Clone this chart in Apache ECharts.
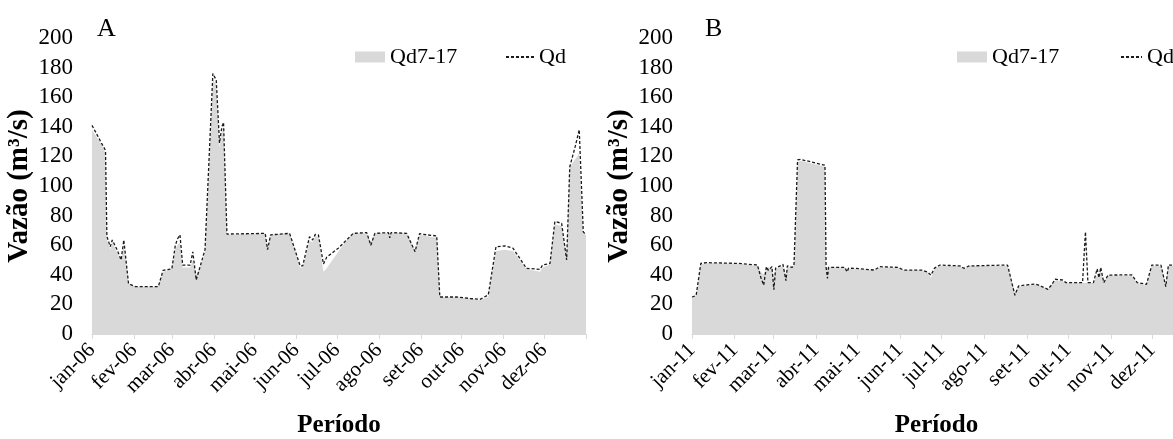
<!DOCTYPE html>
<html>
<head>
<meta charset="utf-8">
<script src="https://cdn.jsdelivr.net/npm/echarts@6/dist/echarts.min.js"></script>
<style>
  html, body { margin: 0; padding: 0; background: #fff; overflow: hidden; }
  #chart { width: 1173px; height: 439px; }
</style>
</head>
<body>
<div id="chart"></div>
<script>
// Day of year (0 = 1 Jan) at which each month starts, and the month labels
const monthStarts = [0, 31, 59, 90, 120, 151, 181, 212, 243, 273, 304, 334];
const monthNames = ['jan', 'fev', 'mar', 'abr', 'mai', 'jun', 'jul', 'ago', 'set', 'out', 'nov', 'dez'];
const labels2006 = monthNames.map(m => m + '-06');
const labels2011 = monthNames.map(m => m + '-11');
const yTicks = [0, 20, 40, 60, 80, 100, 120, 140, 160, 180, 200];

// 2006 — discharge [day of year, m³/s]
const qd2006 = [
  [0,141],[7,129],[10,124],[11,66],[13.5,59],[15,63.5],[18.5,57],[21.5,50],[23.5,63.5],[27,34],
  [32,32],[49,32],[52.5,43],[59,44],[61.5,59.5],[63,64],[65,67],[67,46.5],[72.5,46.5],[74.5,55.5],
  [77,36.5],[80.5,47.5],[83.5,57],[89.3,176],[91.8,171.6],[94.2,129],[96,140],[97.2,143],[99.7,67.5],
  [128,68],[129.7,57],[132,67],[146,68],[153.8,46],[155.7,46],[160.7,65.7],[163,63.5],[165,67.3],
  [167.3,67],[171,47.3],[173.5,52],[182,58],[193,68],[203,68.5],[206,60],[209,68],[219,68.5],
  [220,65],[221,68.5],[232.5,68],[238.7,55.6],[242,67.8],[247.3,67],[254.7,66.3],[257,25],
  [269.5,25],[279.3,24],[286.7,23.4],[288,22.5],[292.8,26.4],[298.5,59],[305,59.5],[311,58],
  [321,44.4],[331,43.7],[333,46.6],[338.4,47.7],[342,76],[347,74.8],[350.7,50],[353,113],
  [357,126.6],[360,138],[363,69],[365,67]
];
const qd717_2006 = [
  [0,138],[7,128],[10,122],[11,64],[13.5,57],[15,62],[18.5,55],[21.5,49],[23.5,60],[27,34],
  [32,32],[49,32],[52.5,42],[59,44],[61.5,57],[63,60],[65,62],[67,45],[72.5,45],[74.5,50],
  [77,40],[80.5,46],[83.5,55],[89.3,172],[91.8,168],[94.2,126],[96,136],[97.2,140],[99.7,67],
  [128,68],[129.7,57],[132,67],[146,68],[153.8,45],[155.7,45],[160.7,63],[163,62],[165,66],
  [167.3,66],[171,42],[173,44],[187,62],[193,68],[203,68],[206,62],[209,68],[232.5,68],[238.7,56],
  [242,67],[247.3,66],[254.7,65],[257,25],[269.5,25],[279.3,24],[286.7,23],[292.8,25],
  [298.5,56],[305,57],[311,56],[321,44],[331,42],[333,45],[338.4,47],[342,74],[347,73],
  [350.7,52],[353,113],[357,118],[360,122],[363,68],[365,67]
];

// 2011 — discharge [day of year, m³/s]
const qd2011 = [
  [0,25],[3,26],[6.4,47.7],[10.4,48.2],[34,47.7],[47.5,46.6],[50,38],[52,33],[54,45.5],[55.4,43],
  [58,45.5],[59.4,30],[60.7,44.5],[66,47],[68.2,36],[69.2,46],[72.7,45],[74,46.6],[76.6,117.6],
  [78.8,118],[96.5,114],[97.3,45],[98.3,37.6],[99.1,45],[111,45],[112.4,42],[113.7,44.5],[119,44.3],
  [132.3,43.2],[136.3,45.5],[149.5,45],[153.5,43.2],[166.7,43.2],[170.7,42],[173.4,39.8],[176,44.5],
  [180,46.6],[194.6,46],[197.2,44.4],[201.2,46],[229,46.6],[234.3,26.2],[237,32.5],[248.9,33.8],
  [251.6,33],[258.2,30.2],[260.8,33],[263.5,37],[268.8,36.5],[271.4,34.7],[283.4,34.7],[285.5,69],
  [287.3,34.7],[291.3,34.7],[294,44],[295.3,38],[296.6,45],[298.8,34.7],[301.9,39.8],[303.3,40.5],
  [319.1,40],[323.1,34.7],[329.8,33.6],[333.7,46.6],[340.3,46.6],[343.8,32],[345.7,46.6],[365,46.6]
];
const qd717_2011 = [
  [0,25],[3,26],[6.4,47],[10.4,48],[34,47.5],[47.5,46],[50,42],[52,40],[54,45],[58,45],
  [59.4,38],[60.7,44],[66,46],[68.2,40],[69.2,45],[74,46],[76.6,116],[78.8,117],[96.5,113],
  [97.3,45],[99.1,45],[111,45],[112.4,42],[113.7,44],[119,44],[132.3,43],[136.3,45],[149.5,45],
  [153.5,43],[166.7,43],[170.7,42],[173.4,38],[176,44],[180,46],[194.6,46],[197.2,44],[201.2,46],
  [229,46],[234.3,28],[237,32],[248.9,33.5],[251.6,33],[258.2,30],[260.8,33],[263.5,36],
  [268.8,36],[271.4,34.5],[291.3,34.5],[294,40],[296.6,42],[298.8,35],[301.9,39.5],[319.1,39.5],
  [323.1,34.5],[329.8,33],[333.7,46],[340.3,46],[343.8,34],[345.7,46],[365,46]
];

const FONT = 'Liberation Serif';
const AREA = '#d9d9d9';
const INK = '#000';

function xAxisFor(gridIndex, labels, namePadding) {
  return {
    type: 'value', gridIndex, min: 0, max: 365,
    name: 'Período', nameLocation: 'middle', nameGap: 79,
    nameTextStyle: { fontFamily: FONT, fontSize: 25, fontWeight: 'bold', color: INK,
                     padding: namePadding },
    splitLine: { show: false },
    axisLine: { show: true, lineStyle: { color: '#d9d9d9', width: 1 } },
    axisTick: { show: true, customValues: monthStarts.concat([365]), length: 5,
                lineStyle: { color: '#d9d9d9' } },
    axisLabel: {
      customValues: monthStarts, rotate: 45, margin: 13,
      fontFamily: FONT, fontSize: 21, color: INK,
      formatter: v => labels[monthStarts.indexOf(v)] || ''
    }
  };
}
function yAxisFor(gridIndex) {
  return {
    type: 'value', gridIndex, min: 0, max: 200, interval: 20,
    name: 'Vazão (m³/s)', nameLocation: 'middle', nameGap: 58, nameRotate: 90,
    nameTextStyle: { fontFamily: FONT, fontSize: 29, fontWeight: 'bold', color: INK },
    splitLine: { show: false }, axisLine: { show: false }, axisTick: { show: false },
    axisLabel: { margin: 19, fontFamily: FONT, fontSize: 23, color: INK,
                 customValues: yTicks }
  };
}
function areaSeries(idx, data) {
  return { name: 'Qd7-17', type: 'line', xAxisIndex: idx, yAxisIndex: idx, data,
    symbol: 'none', color: AREA, lineStyle: { width: 0 },
    areaStyle: { color: AREA, opacity: 1 }, z: 1, silent: true };
}
function lineSeries(idx, data) {
  return { name: 'Qd', type: 'line', xAxisIndex: idx, yAxisIndex: idx, data,
    symbol: 'none', color: INK,
    lineStyle: { color: '#1a1a1a', width: 1.3, type: [3, 2] }, z: 3, silent: true };
}
// One legend entry per component so each can sit exactly where it belongs
function legendItem(name, left, top, iconWidth) {
  const isArea = name === 'Qd7-17';
  return {
    left, top, itemWidth: iconWidth, itemHeight: isArea ? 11 : 12, itemGap: 0,
    selectedMode: false,
    textStyle: { fontFamily: FONT, fontSize: 22, color: INK },
    data: [isArea ? { name, icon: 'rect', itemStyle: { color: AREA } }
                  : { name, itemStyle: { opacity: 0 } }]
  };
}

const chart = echarts.init(document.getElementById('chart'), null, { renderer: 'canvas' });
chart.setOption({
  animation: false,
  backgroundColor: '#fff',
  title: [
    { text: 'A', left: 92, top: 11, textStyle: { fontFamily: FONT, fontSize: 26, fontWeight: 'normal', color: INK } },
    { text: 'B', left: 700, top: 11, textStyle: { fontFamily: FONT, fontSize: 26, fontWeight: 'normal', color: INK } }
  ],
  legend: [
    legendItem('Qd7-17', 350, 41, 30),
    legendItem('Qd', 500, 41, 28),
    legendItem('Qd7-17', 952, 41, 30),
    legendItem('Qd', 1115, 41, 21)
  ],
  grid: [
    { left: 92, top: 38, width: 494, height: 296, outerBoundsMode: 'none' },
    { left: 692, top: 38, width: 503, height: 296, outerBoundsMode: 'none' }
  ],
  xAxis: [xAxisFor(0, labels2006, 0), xAxisFor(1, labels2011, [0, 14, 0, 0])],
  yAxis: [yAxisFor(0), yAxisFor(1)],
  series: [
    areaSeries(0, qd717_2006), lineSeries(0, qd2006),
    areaSeries(1, qd717_2011), lineSeries(1, qd2011)
  ]
});
</script>
</body>
</html>
